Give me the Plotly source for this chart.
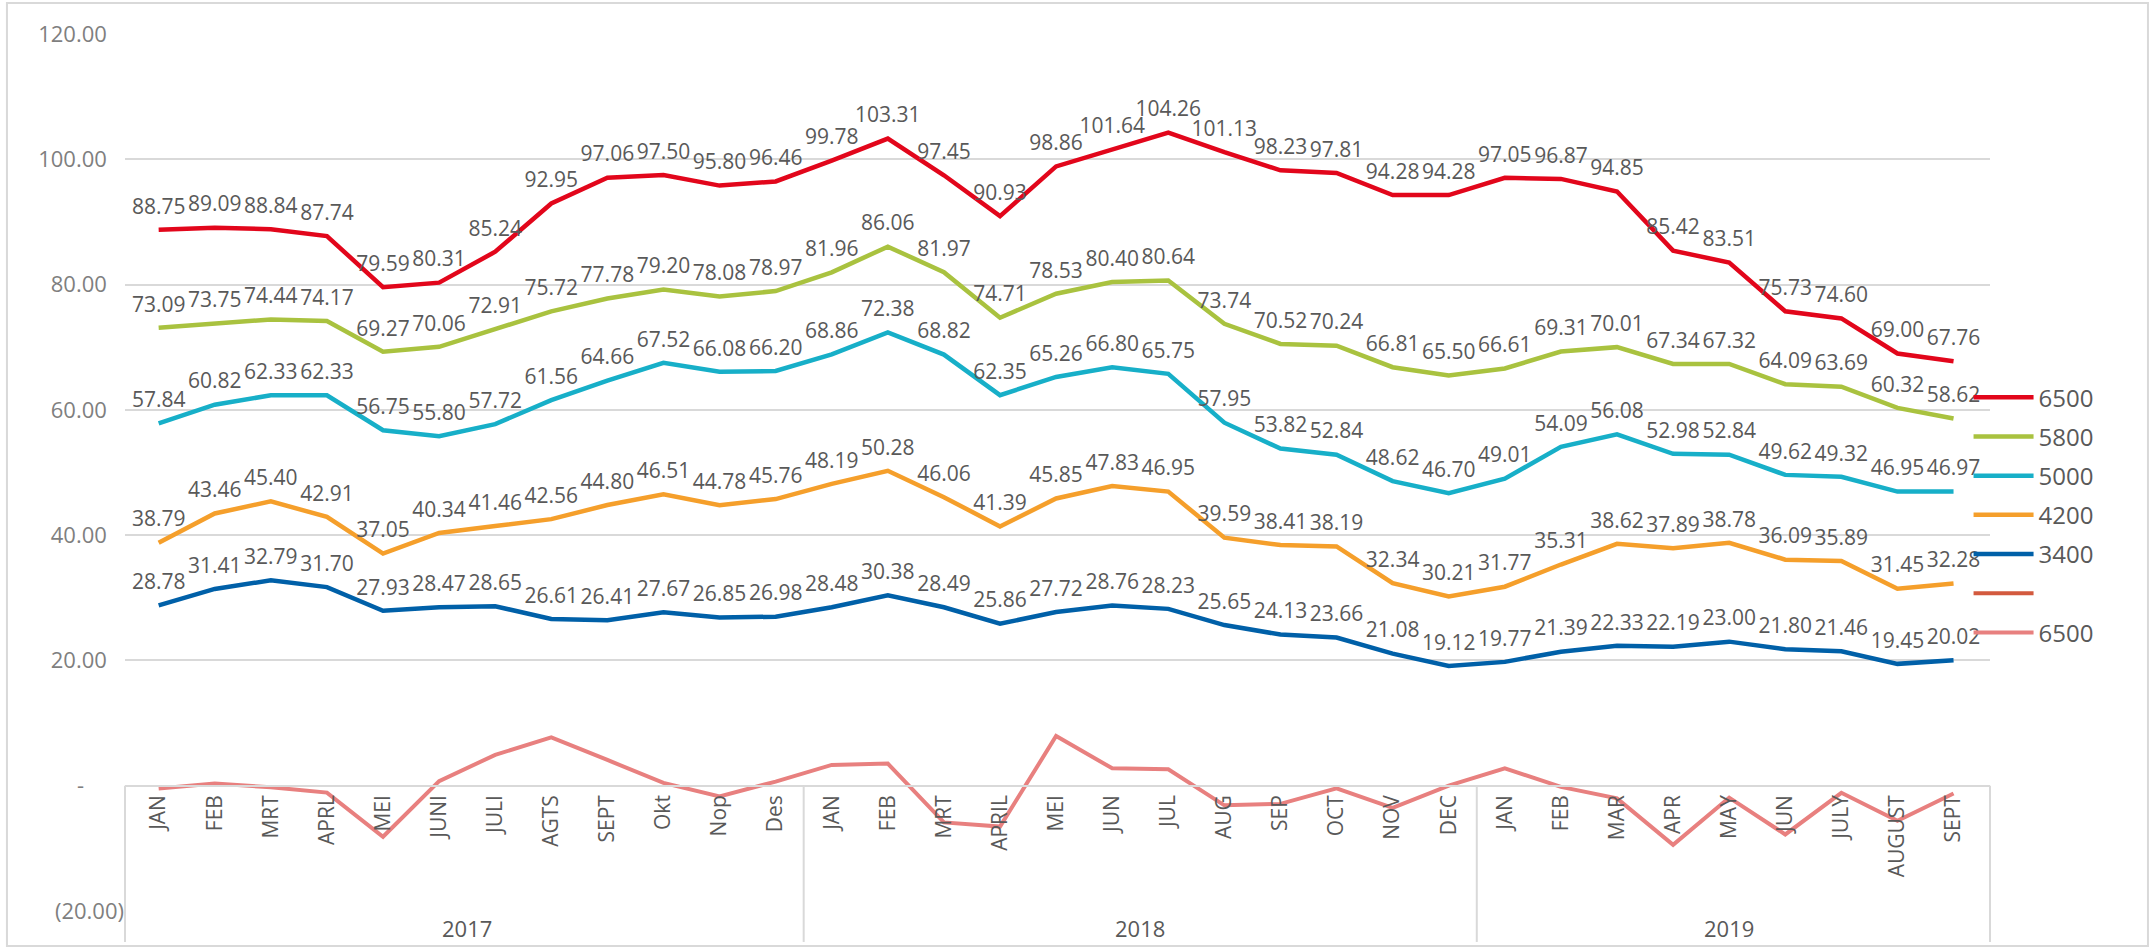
import plotly.graph_objects as go

# categories
years = ["2017", "2018", "2019"]
months_2017 = ["JAN", "FEB", "MRT", "APRL", "MEI", "JUNI", "JULI", "AGTS", "SEPT", "Okt", "Nop", "Des"]
months_2018 = ["JAN", "FEB", "MRT", "APRIL", "MEI", "JUN", "JUL", "AUG", "SEP", "OCT", "NOV", "DEC"]
months_2019 = ["JAN", "FEB", "MAR", "APR", "MAY", "JUN", "JULY", "AUGUST", "SEPT"]

# series values
s6500 = [88.75, 89.09, 88.84, 87.74, 79.59, 80.31, 85.24, 92.95, 97.06, 97.50, 95.80, 96.46,
         99.78, 103.31, 97.45, 90.93, 98.86, 101.64, 104.26, 101.13, 98.23, 97.81, 94.28, 94.28,
         97.05, 96.87, 94.85, 85.42, 83.51, 75.73, 74.60, 69.00, 67.76]
s5800 = [73.09, 73.75, 74.44, 74.17, 69.27, 70.06, 72.91, 75.72, 77.78, 79.20, 78.08, 78.97,
         81.96, 86.06, 81.97, 74.71, 78.53, 80.40, 80.64, 73.74, 70.52, 70.24, 66.81, 65.50,
         66.61, 69.31, 70.01, 67.34, 67.32, 64.09, 63.69, 60.32, 58.62]
s5000 = [57.84, 60.82, 62.33, 62.33, 56.75, 55.80, 57.72, 61.56, 64.66, 67.52, 66.08, 66.20,
         68.86, 72.38, 68.82, 62.35, 65.26, 66.80, 65.75, 57.95, 53.82, 52.84, 48.62, 46.70,
         49.01, 54.09, 56.08, 52.98, 52.84, 49.62, 49.32, 46.95, 46.97]
s4200 = [38.79, 43.46, 45.40, 42.91, 37.05, 40.34, 41.46, 42.56, 44.80, 46.51, 44.78, 45.76,
         48.19, 50.28, 46.06, 41.39, 45.85, 47.83, 46.95, 39.59, 38.41, 38.19, 32.34, 30.21,
         31.77, 35.31, 38.62, 37.89, 38.78, 36.09, 35.89, 31.45, 32.28]
s3400 = [28.78, 31.41, 32.79, 31.70, 27.93, 28.47, 28.65, 26.61, 26.41, 27.67, 26.85, 26.98,
         28.48, 30.38, 28.49, 25.86, 27.72, 28.76, 28.23, 25.65, 24.13, 23.66, 21.08, 19.12,
         19.77, 21.39, 22.33, 22.19, 23.00, 21.80, 21.46, 19.45, 20.02]
s_blank = [None] * 33  # series in the legend with no values
s6500_change = [-0.45, 0.34, -0.25, -1.10, -8.15, 0.72, 4.93, 7.71, 4.11, 0.44, -1.70, 0.66,
                3.32, 3.53, -5.86, -6.52, 7.93, 2.78, 2.62, -3.13, -2.90, -0.42, -3.53, 0.00,
                2.77, -0.18, -2.02, -9.43, -1.91, -7.78, -1.13, -5.60, -1.24]

# tick labels
pad = "\u00a0" * 3
y_tickvals = [-20, 0, 20, 40, 60, 80, 100, 120]
y_ticktext = ["(20.00)", "-" + "\u00a0" * 7, "20.00" + pad, "40.00" + pad, "60.00" + pad,
              "80.00" + pad, "100.00" + pad, "120.00" + pad]

groups = [(years[0], months_2017), (years[1], months_2018), (years[2], months_2019)]
x_keys, x_labels = [], []
for yr, ms in groups:
    for m in ms:
        x_keys.append(yr + " " + m)
        x_labels.append(m)

GRID = "#d9d9d9"
TXT = "#595959"
FONT = "Open Sans"

fig = go.Figure()

labelled = [
    ("6500", s6500, "#e2061b"),
    ("5800", s5800, "#a9c23f"),
    ("5000", s5000, "#17afc8"),
    ("4200", s4200, "#f59f2b"),
    ("3400", s3400, "#0060a8"),
]
for i, (name, vals, col) in enumerate(labelled):
    # transparent markers push the labels a little further above the line
    fig.add_trace(go.Scatter(
        x=x_keys, y=vals, name=name, mode="lines+markers+text",
        line=dict(color=col, width=4.5),
        marker=dict(size=16, color="rgba(0,0,0,0)"),
        texttemplate="%{y:.2f}", textposition="top center",
        textfont=dict(size=21, color=TXT, family=FONT),
        legendgroup="g%d" % i, cliponaxis=False,
    ))

fig.add_trace(go.Scatter(x=x_keys, y=s_blank, name="", mode="lines",
                         line=dict(color="#d35a3e", width=4), legendgroup="g5"))
fig.add_trace(go.Scatter(x=x_keys, y=s6500_change, name="6500", mode="lines",
                         line=dict(color="#e8807f", width=4), legendgroup="g6"))

zero_pos = 20 / 140
bottom = -0.0353
shapes = [
    dict(type="rect", xref="paper", yref="paper", x0=-0.0633, x1=1.0847, y0=-0.0399, y1=1.0353,
         line=dict(color=GRID, width=2)),
]
for xv, ref in [(0, "paper"), (1, "paper"), (11.5, "x"), (23.5, "x")]:
    shapes.append(dict(type="line", xref=ref, yref="paper", x0=xv, x1=xv, y0=zero_pos, y1=bottom,
                       line=dict(color=GRID, width=2)))

annotations = []
start = 0
for yr, ms in groups:
    annotations.append(dict(x=start + (len(ms) - 1) / 2, y=-0.0194, xref="x", yref="paper",
                            text=yr, showarrow=False, yanchor="middle",
                            font=dict(size=22, color=TXT, family=FONT)))
    start += len(ms)

fig.update_layout(
    width=2154, height=949,
    margin=dict(l=125, r=164, t=34, b=38),
    paper_bgcolor="white", plot_bgcolor="white",
    font=dict(family=FONT, color=TXT),
    shapes=shapes, annotations=annotations,
    legend=dict(x=0.9885, y=0.611, xanchor="left", yanchor="top", itemwidth=60,
                font=dict(size=24, color=TXT, family=FONT),
                traceorder="grouped", tracegroupgap=5, bgcolor="rgba(0,0,0,0)"),
    xaxis=dict(type="category", range=[-0.6, 32.65], tickvals=x_keys, ticktext=x_labels,
               tickangle=-90, tickfont=dict(size=21, color=TXT, family=FONT),
               showline=True, linecolor=GRID, linewidth=2, showgrid=False, ticks="",
               anchor="free", position=zero_pos),
    yaxis=dict(range=[-20, 120], tickvals=y_tickvals, ticktext=y_ticktext,
               showgrid=True, gridcolor=GRID, gridwidth=2, zeroline=False, showline=False,
               tickfont=dict(size=22, color="#7f7f7f", family=FONT), ticks=""),
)

fig.write_html("out.html", config={"displayModeBar": False},
               post_script="document.body.style.margin='0px';")
